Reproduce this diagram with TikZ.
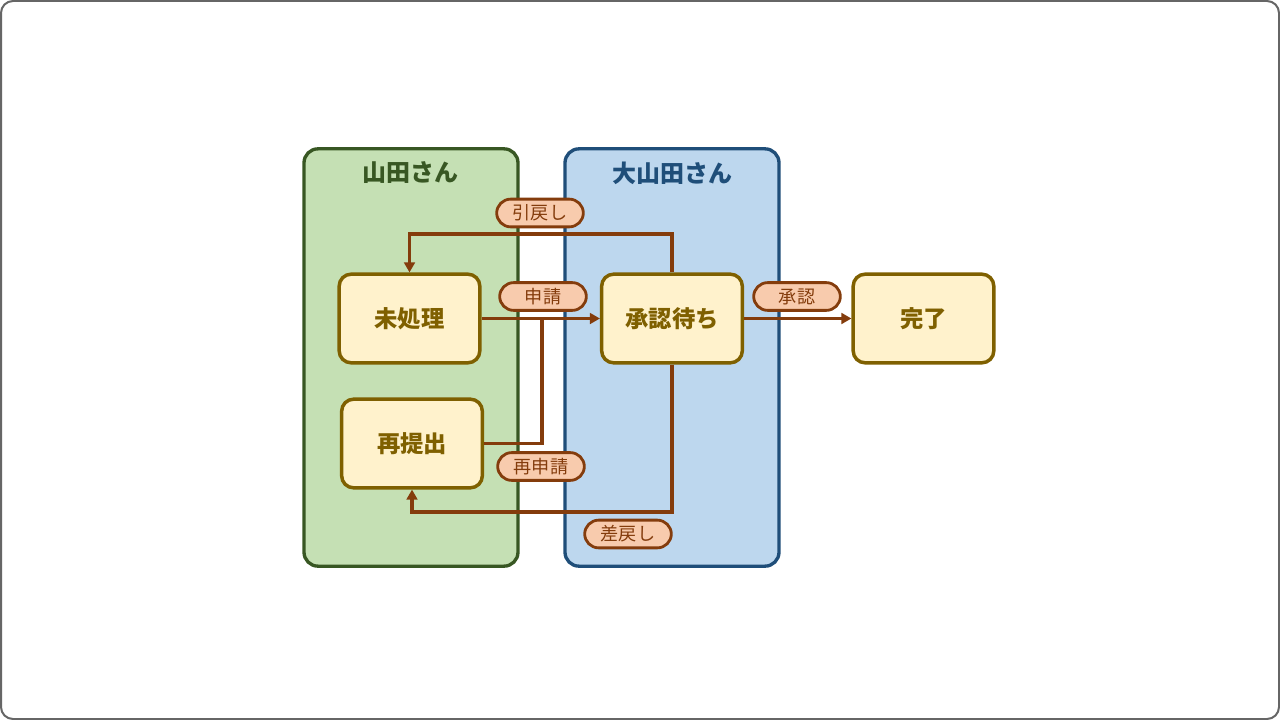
\documentclass[tikz,border=0pt]{standalone}
\usepackage{fontspec}
\newfontfamily\jp{Noto Sans CJK JP}
\usetikzlibrary{arrows.meta}
\definecolor{frameC}{HTML}{666666}
\definecolor{laneAfill}{HTML}{C5E0B4}
\definecolor{laneAdraw}{HTML}{385723}
\definecolor{laneBfill}{HTML}{BDD7EE}
\definecolor{laneBdraw}{HTML}{1F4E79}
\definecolor{stfill}{HTML}{FFF2CC}
\definecolor{stdraw}{HTML}{7F6000}
\definecolor{edgeC}{HTML}{843C0C}
\definecolor{pillfill}{HTML}{F8CBAD}
\tikzset{
  lane/.style={rectangle, rounded corners=10.5pt, line width=2.5pt, minimum width=160.5pt, minimum height=313pt, inner sep=0pt},
  lanetitle/.style={font=\jp\bfseries\fontsize{18}{20}\selectfont, inner sep=0pt},
  state/.style={rectangle, rounded corners=9pt, draw=stdraw, fill=stfill, line width=2.6pt, minimum width=105.5pt, minimum height=66.5pt, text=stdraw, font=\jp\bfseries\fontsize{17.5}{20}\selectfont, inner sep=0pt},
  edge/.style={draw=edgeC, line width=2.6pt, -{Triangle[length=7.5pt,width=8pt]}},
  plainedge/.style={draw=edgeC, line width=2.6pt},
  pill/.style={rectangle, rounded corners=10.5pt, draw=edgeC, fill=pillfill, line width=2.1pt, minimum width=65pt, minimum height=20.8pt, text=edgeC, font=\jp\fontsize{13.6}{15}\selectfont, inner sep=0pt}
}
\begin{document}
\begin{tikzpicture}[x=0.75pt,y=-0.75pt]
\useasboundingbox (0,0) rectangle (1280,720);
\draw[frameC, line width=1.5pt, rounded corners=9pt, fill=white] (1,1) rectangle (1279,719);
% lanes
\node[lane, draw=laneAdraw, fill=laneAfill] (laneA) at (411,357.5) {};
\node[lane, draw=laneBdraw, fill=laneBfill] (laneB) at (672,357.5) {};
\node[lanetitle, text=laneAdraw] (titleA) at (410,173) {山田さん};
\node[lanetitle, text=laneBdraw] (titleB) at (672,173) {大山田さん};
% states
\node[state] (pend) at (409.5,318.5) {未処理};
\node[state] (resub) at (412,443.5) {再提出};
\node[state] (wait) at (672,318.5) {承認待ち};
\node[state] (done) at (923.5,318.5) {完了};
% routing points
\coordinate (backTop) at (409.5,234);
\coordinate (join) at (542,318.5);
\coordinate (backBot) at (412,512);
% edges
\draw[edge] (pend.east) -- (wait.west);
\draw[edge] (wait.east) -- (done.west);
\draw[plainedge] (resub.east) -| (join);
\draw[edge] (wait.north) |- (backTop) -- (pend.north);
\draw[edge] (wait.south) |- (backBot) -- (resub.south);
% labels
\node[pill] (lblPull) at (540,213) {引戻し};
\node[pill] (lblApply) at (543,296.5) {申請};
\node[pill] (lblOk) at (797,296.5) {承認};
\node[pill] (lblReapply) at (541,466.5) {再申請};
\node[pill] (lblReturn) at (628,534) {差戻し};
\end{tikzpicture}
\end{document}
